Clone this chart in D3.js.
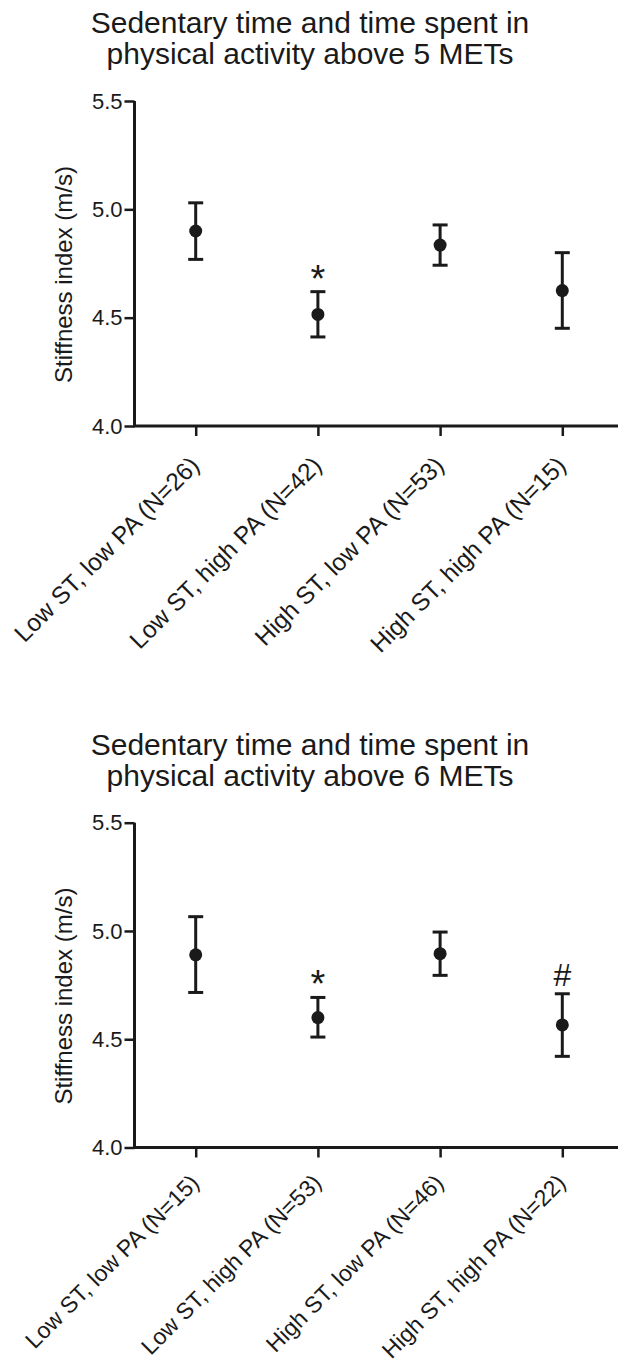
<!DOCTYPE html>
<html>
<head>
<meta charset="utf-8">
<script src="https://cdn.jsdelivr.net/npm/d3@7"></script>
<style>
  html, body { margin: 0; padding: 0; background: #fff; }
  svg { display: block; }
  text { font-family: "Liberation Sans", Arial, sans-serif; fill: #1a1a1a; }
</style>
</head>
<body>
<svg id="chart" width="618" height="1371"></svg>
<script>
// ---- Data ----
const yTicks = [4.0, 4.5, 5.0, 5.5];
const yLabel = "Stiffness index (m/s)";

const titles1 = ["Sedentary time and time spent in", "physical activity above 5 METs"];
const categories1 = ["Low ST, low PA (N=26)", "Low ST, high PA (N=42)", "High ST, low PA (N=53)", "High ST, high PA (N=15)"];
const means1 = [4.90, 4.515, 4.835, 4.625];
const upper1 = [5.03, 4.62, 4.928, 4.80];
const lower1 = [4.769, 4.411, 4.742, 4.451];
const marks1 = ["", "*", "", ""];

const titles2 = ["Sedentary time and time spent in", "physical activity above 6 METs"];
const categories2 = ["Low ST, low PA (N=15)", "Low ST, high PA (N=53)", "High ST, low PA (N=46)", "High ST, high PA (N=22)"];
const means2 = [4.89, 4.60, 4.895, 4.566];
const upper2 = [5.066, 4.693, 4.995, 4.71];
const lower2 = [4.716, 4.51, 4.795, 4.421];
const marks2 = ["", "*", "", "#"];

const svg = d3.select("#chart");
const ink = "#1a1a1a";

function panel(cfg) {
  const g = svg.append("g");
  const axisX = 134.5;
  const y = d3.scaleLinear().domain([4.0, 5.5]).range([cfg.y0, cfg.y1]);
  const x = d3.scalePoint().domain(cfg.categories).range([195.7, 562.3]);

  // title
  g.selectAll("text.title").data(cfg.titles).enter().append("text")
    .attr("class", "title")
    .attr("x", 310)
    .attr("y", (d, i) => cfg.titleY + i * 31)
    .attr("text-anchor", "middle")
    .style("font-size", "30px")
    .text(d => d);

  // y axis
  const yAxis = d3.axisLeft(y).tickValues(yTicks).tickFormat(d3.format(".1f")).tickSize(10).tickPadding(2);
  const ya = g.append("g").attr("transform", `translate(${axisX},0)`).call(yAxis);
  ya.select(".domain").attr("d", `M0,${cfg.y1}V${cfg.y0}`).attr("stroke", ink).attr("stroke-width", 3);
  ya.selectAll(".tick line").attr("stroke", ink).attr("stroke-width", 2.5);
  ya.selectAll(".tick text").style("font-size", "22px").attr("fill", ink).attr("font-family", null);

  // x axis
  const xAxis = d3.axisBottom(x).tickSize(10).tickFormat("");
  const xa = g.append("g").attr("transform", `translate(0,${cfg.y0})`).call(xAxis);
  xa.select(".domain").attr("d", `M${axisX - 1.5},0H618`).attr("stroke", ink).attr("stroke-width", 3);
  xa.selectAll(".tick line").attr("stroke", ink).attr("stroke-width", 2.5);

  // rotated category labels
  g.selectAll("text.cat").data(cfg.categories).enter().append("text")
    .attr("class", "cat")
    .attr("transform", d => `translate(${x(d) - 1},${cfg.y0 + cfg.labOff}) rotate(-45)`)
    .attr("text-anchor", "end")
    .attr("dy", "0.35em")
    .style("font-size", cfg.labSize + "px")
    .text(d => d);

  // y label
  g.append("text")
    .attr("transform", `translate(64,${(cfg.y0 + cfg.y1) / 2 + 11}) rotate(-90)`)
    .attr("text-anchor", "middle")
    .attr("dy", "0.35em")
    .style("font-size", "24px")
    .text(yLabel);

  const idx = d3.range(cfg.categories.length);
  const cap = 7.5;
  // error bars
  g.selectAll("line.err").data(idx).enter().append("line")
    .attr("x1", i => x(cfg.categories[i])).attr("x2", i => x(cfg.categories[i]))
    .attr("y1", i => y(cfg.upper[i])).attr("y2", i => y(cfg.lower[i]))
    .attr("stroke", ink).attr("stroke-width", 3);
  ["upper", "lower"].forEach(k => {
    g.selectAll("line.cap" + k).data(idx).enter().append("line")
      .attr("x1", i => x(cfg.categories[i]) - cap).attr("x2", i => x(cfg.categories[i]) + cap)
      .attr("y1", i => y(cfg[k][i])).attr("y2", i => y(cfg[k][i]))
      .attr("stroke", ink).attr("stroke-width", 3);
  });
  // points
  g.selectAll("circle.pt").data(idx).enter().append("circle")
    .attr("cx", i => x(cfg.categories[i])).attr("cy", i => y(cfg.means[i]))
    .attr("r", 6.5).attr("fill", ink);
  // significance marks
  g.selectAll("text.mark").data(idx.filter(i => cfg.marks[i])).enter().append("text")
    .attr("x", i => x(cfg.categories[i]))
    .attr("y", i => y(cfg.upper[i]) - (cfg.marks[i] === "#" ? 8 : 0))
    .attr("text-anchor", "middle")
    .style("font-size", i => cfg.marks[i] === "#" ? "32px" : "38px")
    .text(i => cfg.marks[i]);
}

panel({ titles: titles1, categories: categories1, means: means1, upper: upper1, lower: lower1, marks: marks1,
        y0: 426, y1: 101, titleY: 32.5, labOff: 35, labSize: 24.5 });
panel({ titles: titles2, categories: categories2, means: means2, upper: upper2, lower: lower2, marks: marks2,
        y0: 1147.5, y1: 822.7, titleY: 754.5, labOff: 31, labSize: 23 });
</script>
</body>
</html>
